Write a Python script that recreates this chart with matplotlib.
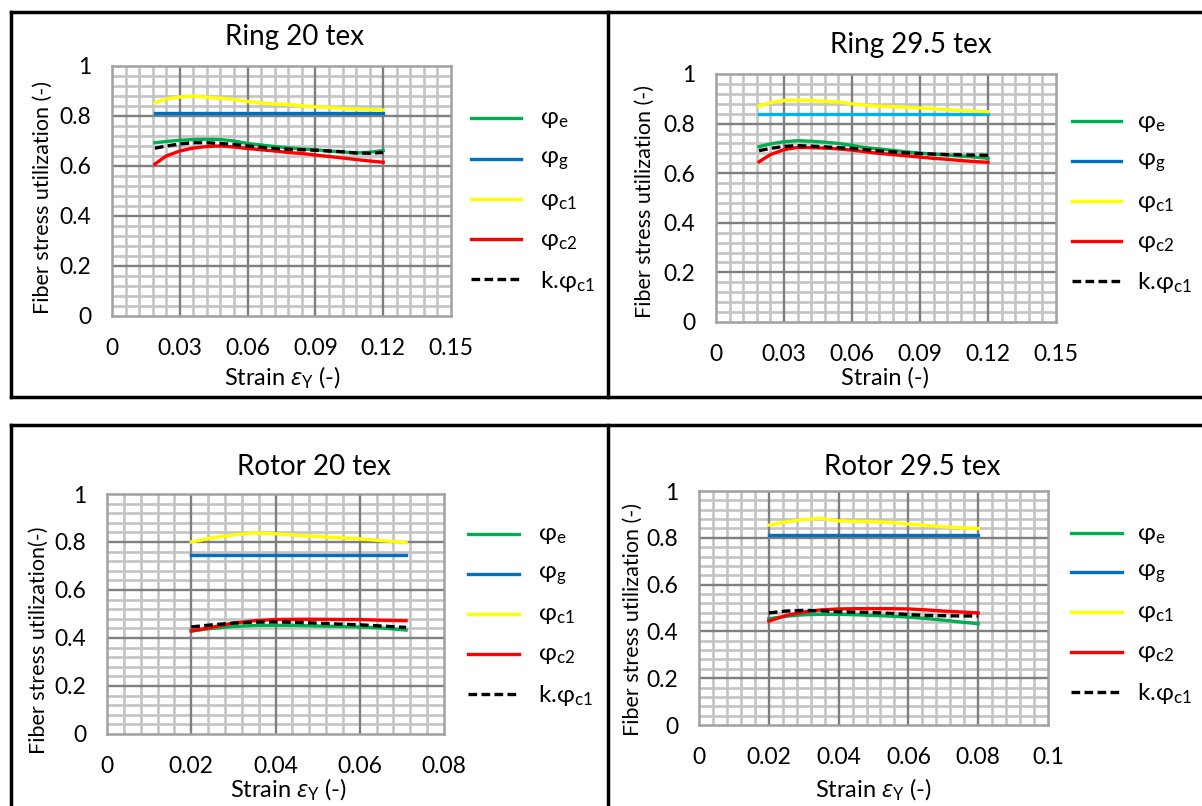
import numpy as np
import matplotlib
matplotlib.use("Agg")
import matplotlib.pyplot as plt
from matplotlib.ticker import MultipleLocator, FixedLocator
from matplotlib.lines import Line2D

plt.rcParams['font.family'] = ['Lato', 'Open Sans', 'DejaVu Sans']
plt.rcParams['mathtext.fontset'] = 'custom'
plt.rcParams['mathtext.rm'] = 'Lato'
plt.rcParams['mathtext.it'] = 'Open Sans:italic'

# ---------------- data ----------------
ring20_x = [0.019, 0.024, 0.03, 0.036, 0.042, 0.048, 0.054, 0.06, 0.066, 0.072,
            0.078, 0.084, 0.09, 0.096, 0.102, 0.108, 0.114, 0.12]
ring20_phi_e = [0.693, 0.698, 0.703, 0.706, 0.707, 0.706, 0.700, 0.690, 0.684, 0.678,
                0.673, 0.668, 0.665, 0.660, 0.656, 0.652, 0.655, 0.662]
ring20_phi_g = [0.81] * 18
ring20_phi_c1 = [0.853, 0.868, 0.876, 0.880, 0.875, 0.871, 0.866, 0.858, 0.852, 0.848,
                 0.846, 0.840, 0.837, 0.835, 0.830, 0.828, 0.826, 0.824]
ring20_phi_c2 = [0.608, 0.640, 0.660, 0.672, 0.678, 0.680, 0.676, 0.670, 0.665, 0.660,
                 0.654, 0.650, 0.644, 0.638, 0.632, 0.626, 0.620, 0.615]
ring20_k_phi_c1 = [0.671, 0.680, 0.688, 0.693, 0.693, 0.690, 0.686, 0.680, 0.675, 0.670,
                   0.667, 0.665, 0.663, 0.660, 0.657, 0.652, 0.651, 0.654]

ring295_x = ring20_x
ring295_phi_e = [0.707, 0.718, 0.727, 0.731, 0.729, 0.725, 0.720, 0.712, 0.703, 0.698,
                 0.692, 0.686, 0.681, 0.677, 0.673, 0.669, 0.665, 0.660]
ring295_phi_g = [0.84] * 18
ring295_phi_c1 = [0.871, 0.885, 0.893, 0.895, 0.893, 0.890, 0.887, 0.880, 0.874, 0.870,
                  0.868, 0.866, 0.863, 0.860, 0.856, 0.852, 0.850, 0.848]
ring295_phi_c2 = [0.646, 0.675, 0.695, 0.704, 0.703, 0.701, 0.698, 0.693, 0.686, 0.680,
                  0.675, 0.670, 0.665, 0.660, 0.656, 0.651, 0.647, 0.644]
ring295_k_phi_c1 = [0.691, 0.700, 0.708, 0.711, 0.709, 0.706, 0.703, 0.700, 0.695, 0.690,
                    0.686, 0.682, 0.679, 0.677, 0.675, 0.674, 0.673, 0.672]

rotor20_x = [0.02, 0.025, 0.03, 0.035, 0.04, 0.045, 0.05, 0.055, 0.06, 0.065, 0.071]
rotor20_phi_e = [0.429, 0.440, 0.448, 0.452, 0.453, 0.452, 0.450, 0.448, 0.446, 0.442, 0.433]
rotor20_phi_g = [0.745] * 11
rotor20_phi_c1 = [0.800, 0.818, 0.829, 0.838, 0.834, 0.828, 0.823, 0.818, 0.813, 0.806, 0.797]
rotor20_phi_c2 = [0.429, 0.445, 0.462, 0.472, 0.477, 0.478, 0.478, 0.477, 0.477, 0.474, 0.472]
rotor20_k_phi_c1 = [0.446, 0.455, 0.462, 0.466, 0.467, 0.465, 0.462, 0.458, 0.455, 0.450, 0.444]

rotor295_x = [0.02, 0.025, 0.03, 0.035, 0.04, 0.045, 0.05, 0.055, 0.06, 0.065, 0.07, 0.075, 0.08]
rotor295_phi_e = [0.454, 0.465, 0.471, 0.473, 0.473, 0.471, 0.468, 0.465, 0.461, 0.455,
                  0.448, 0.440, 0.433]
rotor295_phi_g = [0.81] * 13
rotor295_phi_c1 = [0.854, 0.868, 0.878, 0.883, 0.872, 0.870, 0.869, 0.865, 0.859, 0.853,
                   0.847, 0.843, 0.840]
rotor295_phi_c2 = [0.444, 0.468, 0.483, 0.492, 0.496, 0.497, 0.497, 0.497, 0.496, 0.492,
                   0.487, 0.483, 0.479]
rotor295_k_phi_c1 = [0.479, 0.487, 0.490, 0.488, 0.484, 0.482, 0.480, 0.477, 0.472, 0.468,
                     0.467, 0.466, 0.466]

titles = ["Ring 20 tex", "Ring 29.5 tex", "Rotor 20 tex", "Rotor 29.5 tex"]
legend_labels = [r"φ$_{\mathregular{e}}$", r"φ$_{\mathregular{g}}$", r"φ$_{\mathregular{c1}}$",
                 r"φ$_{\mathregular{c2}}$", r"k.φ$_{\mathregular{c1}}$"]
yticks = [0, 0.2, 0.4, 0.6, 0.8, 1.0]
ytick_labels = ["0", "0.2", "0.4", "0.6", "0.8", "1"]
ring_xticks = [0, 0.03, 0.06, 0.09, 0.12, 0.15]
ring_xtick_labels = ["0", "0.03", "0.06", "0.09", "0.12", "0.15"]
rotor20_xticks = [0, 0.02, 0.04, 0.06, 0.08]
rotor20_xtick_labels = ["0", "0.02", "0.04", "0.06", "0.08"]
rotor295_xticks = [0, 0.02, 0.04, 0.06, 0.08, 0.1]
rotor295_xtick_labels = ["0", "0.02", "0.04", "0.06", "0.08", "0.1"]

C_E = "#00b050"
C_G = "#0070c0"
C_G_LIGHT = "#00b0f0"
C_C1 = "#ffff00"
C_C2 = "#ff0000"
C_K = "#000000"

W, H = 1202, 806
fig = plt.figure(figsize=(W / 100, H / 100), dpi=100)
fig.patch.set_facecolor("white")


def rect(l, t, r, b):
    return [l / W, 1 - b / H, (r - l) / W, (b - t) / H]


def fx(x):
    return x / W


def fy(y):
    return 1 - y / H


def hline(x0, x1, y, lw=2.5):
    fig.add_artist(Line2D([fx(x0), fx(x1)], [fy(y), fy(y)], color="black", lw=lw,
                          transform=fig.transFigure))


def vline(x, y0, y1, lw=2.5):
    fig.add_artist(Line2D([fx(x), fx(x)], [fy(y0), fy(y1)], color="black", lw=lw,
                          transform=fig.transFigure))


# panel frames
hline(11, 1202, 12)
hline(11, 1202, 397)
vline(11, 12, 397)
vline(608, 12, 397)
hline(11, 1202, 425)
vline(11, 425, 806)
vline(608, 425, 806)

panels = [
    dict(box=(112, 66, 451, 316), xlim=0.15, xmaj=0.03, xmin=0.006,
         xticks=ring_xticks, xtl=ring_xtick_labels,
         x=ring20_x, e=ring20_phi_e, g=ring20_phi_g, c1=ring20_phi_c1, c2=ring20_phi_c2,
         k=ring20_k_phi_c1, gcol=C_G,
         title=titles[0], tpos=(295, 37),
         xlabel=r"Strain $\varepsilon_{\mathregular{Y}}$ (-)", xlpos=(282, 378),
         ylabel="Fiber stress utilization (-)", ylpos=(43, 198),
         leg=(471, 521, 540, [118, 159, 199, 239, 279])),
    dict(box=(716, 74, 1056, 322), xlim=0.15, xmaj=0.03, xmin=0.006,
         xticks=ring_xticks, xtl=ring_xtick_labels,
         x=ring295_x, e=ring295_phi_e, g=ring295_phi_g, c1=ring295_phi_c1, c2=ring295_phi_c2,
         k=ring295_k_phi_c1, gcol=C_G_LIGHT,
         title=titles[1], tpos=(911, 45),
         xlabel="Strain (-)", xlpos=(885, 378),
         ylabel="Fiber stress utilization (-)", ylpos=(645, 202),
         leg=(1072, 1121, 1137, [121, 161, 201, 241, 281])),
    dict(box=(107, 494, 444, 734), xlim=0.08, xmaj=0.02, xmin=0.004,
         xticks=rotor20_xticks, xtl=rotor20_xtick_labels,
         x=rotor20_x, e=rotor20_phi_e, g=rotor20_phi_g, c1=rotor20_phi_c1, c2=rotor20_phi_c2,
         k=rotor20_k_phi_c1, gcol=C_G,
         title=titles[2], tpos=(314, 467),
         xlabel=r"Strain $\varepsilon_{\mathregular{Y}}$ (-)", xlpos=(288, 790),
         ylabel="Fiber stress utilization(-)", ylpos=(39, 640),
         leg=(468, 519, 538, [534, 574, 614, 654, 694])),
    dict(box=(699, 491, 1048, 725), xlim=0.1, xmaj=0.02, xmin=0.004,
         xticks=rotor295_xticks, xtl=rotor295_xtick_labels,
         x=rotor295_x, e=rotor295_phi_e, g=rotor295_phi_g, c1=rotor295_phi_c1,
         c2=rotor295_phi_c2, k=rotor295_k_phi_c1, gcol=C_G,
         title=titles[3], tpos=(912, 467),
         xlabel=r"Strain $\varepsilon_{\mathregular{Y}}$ (-)", xlpos=(873, 790),
         ylabel="Fiber stress utilization (-)", ylpos=(633, 619),
         leg=(1071, 1122, 1137, [533, 572, 612, 652, 692])),
]

FS_TICK = 16.5
FS_XLAB = 17
FS_YLAB = 15.5
FS_LEG = 17.5
FS_TITLE = 20
LW = 2.4
DASH = (0, (2.6, 1.3))

for p in panels:
    ax = fig.add_axes(rect(*p["box"]))
    ax.set_xlim(0, p["xlim"])
    ax.set_ylim(0, 1)
    ax.xaxis.set_major_locator(FixedLocator(p["xticks"]))
    ax.set_xticklabels(p["xtl"])
    ax.xaxis.set_minor_locator(MultipleLocator(p["xmin"]))
    ax.yaxis.set_major_locator(FixedLocator(yticks))
    ax.set_yticklabels(ytick_labels)
    ax.yaxis.set_minor_locator(MultipleLocator(0.04))
    ax.grid(which="minor", color="#c4c4c4", lw=1.9)
    ax.grid(which="major", visible=False)
    ax.set_axisbelow(True)
    # major grid drawn above minor grid
    for xv in p["xticks"][1:-1]:
        ax.axvline(xv, color="#7f7f7f", lw=1.7, zorder=1)
    for yv in yticks[1:-1]:
        ax.axhline(yv, color="#7f7f7f", lw=1.7, zorder=1)
    for s in ax.spines.values():
        s.set_color("#a0a0a0")
        s.set_linewidth(1.8)
    ax.tick_params(which="both", length=0)
    ax.tick_params(axis="y", pad=15, labelsize=FS_TICK)
    ax.tick_params(axis="x", pad=16, labelsize=FS_TICK)

    ax.plot(p["x"], p["g"], color=p["gcol"], lw=LW, zorder=3)
    ax.plot(p["x"], p["c1"], color=C_C1, lw=LW, zorder=3)
    ax.plot(p["x"], p["e"], color=C_E, lw=LW, zorder=3)
    ax.plot(p["x"], p["k"], color=C_K, lw=LW, ls=DASH, zorder=4)
    ax.plot(p["x"], p["c2"], color=C_C2, lw=LW, zorder=3)

    fig.text(fx(p["tpos"][0]), fy(p["tpos"][1]), p["title"], fontsize=FS_TITLE,
             ha="center", va="center")
    fig.text(fx(p["xlpos"][0]), fy(p["xlpos"][1]), p["xlabel"], fontsize=FS_XLAB,
             ha="center", va="center")
    fig.text(fx(p["ylpos"][0]), fy(p["ylpos"][1]), p["ylabel"], fontsize=FS_YLAB,
             ha="center", va="center", rotation=90)

    x0, x1, xt, ys = p["leg"]
    styles = [(C_E, "-"), (C_G, "-"), (C_C1, "-"), (C_C2, "-"), (C_K, DASH)]
    for (col, ls), yy, lab in zip(styles, ys, legend_labels):
        fig.add_artist(Line2D([fx(x0), fx(x1)], [fy(yy), fy(yy)], color=col, lw=LW, ls=ls,
                              transform=fig.transFigure))
        fig.text(fx(xt), fy(yy + 2), lab, fontsize=FS_LEG, ha="left", va="center")

fig.savefig("out.png", dpi=100)
